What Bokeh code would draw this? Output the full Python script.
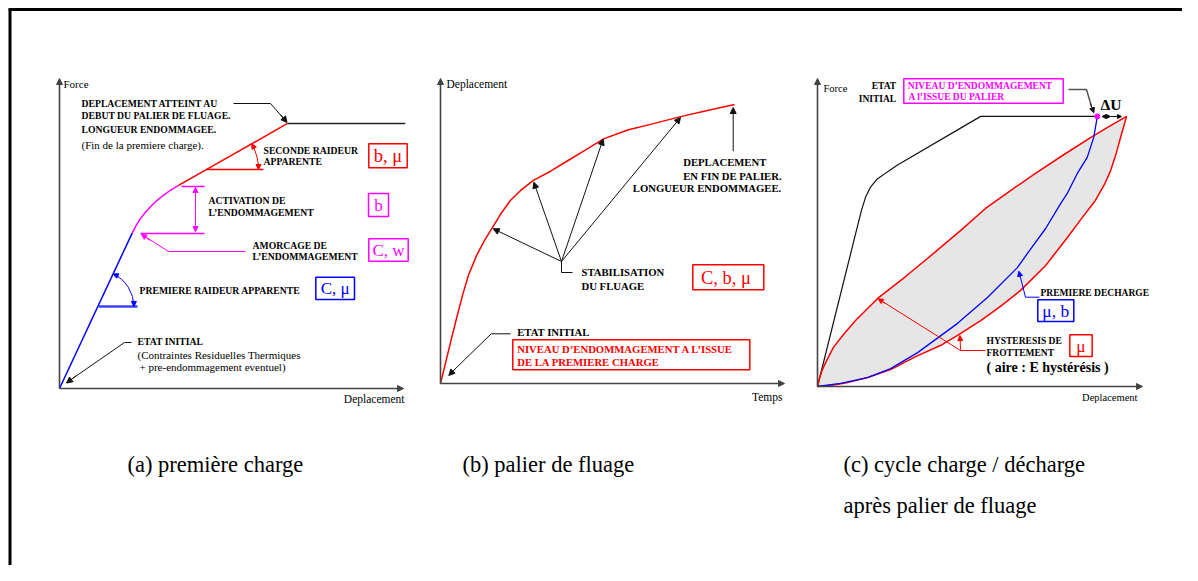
from bokeh.plotting import figure
from bokeh.models import Range1d, Arrow, NormalHead, Label
from bokeh.embed import file_html
from bokeh.resources import INLINE

# ---------------- data : values in % of each axis length ----------------
# (a) premiere charge : Force vs Deplacement (knots of the loading path)
a_disp = [0.0, 21.2, 34.6, 66.3, 100.5]
a_force = [0.0, 50.3, 65.5, 85.5, 85.5]
a_bend_ctrl_disp = [25.1]   # control point of the magenta bend
a_bend_ctrl_force = [59.5]

# (b) palier de fluage : Deplacement vs Temps
b_temps = [0.0, 2.9, 4.65, 6.4, 8.1, 10.5, 12.8, 15.1, 17.4, 20.3, 23.3, 27.0, 32.0, 37.2,
           42.2, 47.4, 54.4, 61.9, 69.8, 77.6, 85.5]
b_depl = [0.0, 13.4, 21.3, 28.9, 35.4, 42.0, 46.9, 51.1, 55.4, 60.0, 63.3, 66.6, 69.6, 73.2,
          76.6, 80.2, 83.1, 85.2, 87.5, 89.5, 91.5]

# (c) cycle charge / decharge apres palier
c_first_disp = [0.0, 13.5, 14.8, 16.3, 18.4, 21.4, 24.5, 50.2, 85.5]
c_first_force = [0.0, 57.1, 61.5, 64.7, 67.4, 69.6, 71.8, 87.7, 87.7]
c_upper_disp = [0.0, 0.6, 1.5, 2.8, 4.9, 8.0, 11.7, 15.1, 18.5, 27.1, 35.7, 44.0, 51.7, 59.4,
                66.5, 75.4, 84.0, 89.5, 95.1]
c_upper_force = [0.0, 2.6, 5.5, 8.4, 12.7, 16.9, 21.4, 25.0, 28.6, 35.7, 43.2, 50.6, 57.8, 63.6,
                 68.8, 75.0, 80.8, 84.3, 87.7]
c_lower_disp = [0.0, 4.0, 8.6, 15.4, 22.5, 30.2, 37.8, 43.1, 50.2, 56.3, 62.5, 70.2, 76.9, 81.5,
                85.5, 88.3, 90.2, 92.0, 93.5, 95.1]
c_lower_force = [0.0, 0.3, 1.1, 2.9, 5.5, 9.7, 13.3, 16.6, 21.4, 26.0, 31.2, 39.3, 48.4, 54.9,
                 60.4, 65.6, 70.1, 76.0, 81.8, 87.7]
c_unload_disp = [86.1, 85.0, 83.0, 79.9, 76.8, 74.8, 70.2, 64.6, 61.5, 52.3, 43.1, 30.8, 22.5,
                 15.4, 7.1, 0.0]
c_unload_force = [87.7, 80.9, 74.4, 69.1, 62.6, 59.4, 51.3, 43.2, 38.6, 28.9, 20.5, 11.0, 5.8,
                  2.9, 1.0, 0.0]

captions = ["(a) première charge", "(b) palier de fluage",
            "(c) cycle charge / décharge", "après palier de fluage"]

RED, BLUE, MAG, BLK = "#ff0000", "#0000ff", "#ff00ff", "#111111"
SERIF = "Liberation Serif"

# ---------------- figure in picture-pixel coordinates ----------------
X0, X1, YB, YT = 0, 1182, 565, 0
p = figure(width=X1 - X0, height=YB - YT, x_range=Range1d(X0, X1), y_range=Range1d(YB, YT),
           output_backend="svg", toolbar_location=None, min_border=0,
           x_axis_location=None, y_axis_location=None)
p.grid.visible = False
p.outline_line_color = None
p.background_fill_color = "white"

# axes frames of the three panels: origin x, origin y, x-arrow end, y-arrow top
PANELS = {"a": (59, 388, 403, 78), "b": (440, 383, 784, 78), "c": (817, 386, 1142, 78)}
for n, (ox, oy, xe, yt) in PANELS.items():
    sx, sy = 100.0 / (xe - ox), 100.0 / (oy - yt)
    p.extra_x_ranges[n] = Range1d((X0 - ox) * sx, (X1 - ox) * sx)
    p.extra_y_ranges[n] = Range1d((oy - YB) * sy, (oy - YT) * sy)
    for (xs, ys, xe_, ye_) in [(0, 0, 100, 0), (0, 0, 0, 100)]:
        p.add_layout(Arrow(x_start=xs, y_start=ys, x_end=xe_, y_end=ye_, x_range_name=n, y_range_name=n,
                           line_color="#444444", line_width=1.6,
                           end=NormalHead(size=6, fill_color="#444444", line_color="#444444")))


def txt(s, x, y, size, color="black", bold=True, align="left", baseline="middle"):
    p.add_layout(Label(x=x, y=y, text=s, text_font=SERIF, text_font_size=f"{size}px",
                       text_font_style="bold" if bold else "normal", text_color=color,
                       text_align=align, text_baseline=baseline))


def arrow(x0, y0, x1, y1, color=BLK, size=6, both=False, lw=1):
    kw = dict(x_start=x0, y_start=y0, x_end=x1, y_end=y1, line_color=color, line_width=lw,
              end=NormalHead(size=size, fill_color=color, line_color=color, line_width=1))
    if both:
        kw["start"] = NormalHead(size=size, fill_color=color, line_color=color, line_width=1)
    p.add_layout(Arrow(**kw))


def box(l, t, r, b, color):
    p.quad(left=[l], right=[r], top=[t], bottom=[b], fill_alpha=0, line_color=color, line_width=1.5)


# frame
p.line([9.5, 9.5], [YB, 9], line_color="black", line_width=3)
p.line([8, X1], [9, 9], line_color="black", line_width=3)

# ================= panel (a) =================
ka = dict(x_range_name="a", y_range_name="a")
p.line(a_disp[0:2], a_force[0:2], line_color=BLUE, line_width=1.5, **ka)
p.quadratic(x0=[a_disp[1]], y0=[a_force[1]], x1=[a_disp[2]], y1=[a_force[2]],
            cx=a_bend_ctrl_disp, cy=a_bend_ctrl_force, line_color=MAG, line_width=1.5, **ka)
p.line(a_disp[2:4], a_force[2:4], line_color=RED, line_width=1.5, **ka)
p.line(a_disp[3:5], a_force[3:5], line_color="#222222", line_width=1.5, **ka)

txt("Force", 63, 83, 11, bold=False)
txt("Deplacement", 404, 398, 11.5, bold=False, align="right")
txt("DEPLACEMENT ATTEINT AU", 81, 103, 9.7)
txt("DEBUT DU PALIER DE FLUAGE.", 81, 114.5, 9.7)
txt("LONGUEUR ENDOMMAGEE.", 81, 129, 9.7)
txt("(Fin de la premiere charge).", 81, 144.5, 11, bold=False)
p.line([233, 270, 284], [103, 103, 119], line_color=BLK, line_width=1)
arrow(280, 114, 286.5, 122)

txt("SECONDE RAIDEUR", 263, 150, 9.7)
txt("APPARENTE", 263, 160.5, 9.7)
p.line([206, 263], [169, 169], line_color=RED, line_width=1.5)
p.arc(x=[206], y=[169], radius=52, start_angle=0, end_angle=0.517, line_color=RED, line_width=1)
arrow(254.2, 148.5, 251.2, 143.3, RED, 5)
arrow(258, 163, 258, 169, RED, 5)
box(368.3, 143.3, 406.7, 167.3, RED)
txt("b, μ", 387.5, 155.5, 18.5, RED, bold=False, align="center")

txt("ACTIVATION DE", 208, 200, 9.7)
txt("L’ENDOMMAGEMENT", 208, 211.5, 9.7)
p.line([181, 204], [186, 186], line_color=MAG, line_width=1.5)
p.line([140, 204], [233, 233], line_color=MAG, line_width=1.5)
arrow(195, 210, 195, 187, MAG, 5)
arrow(195, 210, 195, 231, MAG, 5)
box(368, 193, 388, 216, MAG)
txt("b", 378, 204.5, 17, MAG, bold=False, align="center")

txt("AMORCAGE DE", 252, 244.5, 9.7)
txt("L’ENDOMMAGEMENT", 252, 255.5, 9.7)
p.line([245, 168, 146], [251, 251, 237], line_color=MAG, line_width=1)
arrow(150, 240, 141, 234, MAG, 5)
box(368.3, 238.3, 407.7, 260.7, MAG)
txt("C, w", 388, 249.5, 17, MAG, bold=False, align="center")

txt("PREMIERE RAIDEUR APPARENTE", 139, 289.5, 9.7)
p.line([98, 137], [306, 306], line_color="#4040ff", line_width=2.5)
p.arc(x=[97.4], y=[306], radius=36, start_angle=0, end_angle=1.133, line_color=BLUE, line_width=1)
arrow(118.1, 275.9, 112.7, 273.4, BLUE, 5)
arrow(133.4, 300, 133.4, 306, BLUE, 5)
box(315.3, 276.7, 354, 299, BLUE)
txt("C, μ", 334.7, 288, 17, BLUE, bold=False, align="center")

txt("ETAT INITIAL", 137, 341, 9.7)
txt("(Contraintes Residuelles Thermiques", 137, 354, 11, bold=False)
txt(" + pre-endommagement eventuel)", 139, 366, 11, bold=False)
p.line([131, 124, 72], [342, 342, 378], line_color=BLK, line_width=1)
arrow(76, 375, 66, 382.5)

# ================= panel (b) =================
kb = dict(x_range_name="b", y_range_name="b")
p.line(b_temps, b_depl, line_color=RED, line_width=1.5, **kb)
txt("Deplacement", 446, 83, 11.5, bold=False)
txt("Temps", 782, 396, 11.5, bold=False, align="right")
for tx, ty in [(492.7, 228.3), (533.3, 181.7), (602.7, 138.5), (680, 117)]:
    arrow(561, 261, tx, ty, BLK, 6)
p.line([561, 561, 572], [261, 272, 272], line_color=BLK, line_width=1)
txt("STABILISATION", 581, 271, 10.7)
txt("DU FLUAGE", 581, 285.3, 10.7)
box(692.3, 264.3, 763.3, 289.3, RED)
txt("C, b,  μ", 727.8, 277, 18.5, RED, bold=False, align="center")
txt("DEPLACEMENT", 682.7, 161.7, 10.7)
txt("EN FIN DE PALIER.", 682.7, 175, 10.7)
txt("LONGUEUR ENDOMMAGEE.", 632.3, 187.7, 10.7)
arrow(732.7, 150.7, 732.7, 107, BLK, 6)
txt("ETAT INITIAL", 516.7, 331, 10.7)
p.line([510, 490.7, 452], [333.3, 333.3, 371], line_color=BLK, line_width=1)
arrow(455, 368, 448.3, 375)
box(512.3, 339.3, 749.3, 369.3, RED)
txt("NIVEAU D’ENDOMMAGEMENT A L’ISSUE", 516.7, 348.3, 10.7, RED)
txt("DE LA PREMIERE CHARGE", 516.7, 361, 10.7, RED)

# ================= panel (c) =================
kc = dict(x_range_name="c", y_range_name="c")
p.patch(c_upper_disp + c_lower_disp[::-1], c_upper_force + c_lower_force[::-1],
        fill_color="#e6e6e6", line_color=None, **kc)
p.line(c_first_disp, c_first_force, line_color=BLK, line_width=1.2, **kc)
p.line(c_upper_disp, c_upper_force, line_color=RED, line_width=1.5, **kc)
p.line(c_lower_disp, c_lower_force, line_color=RED, line_width=1.5, **kc)
p.line(c_unload_disp, c_unload_force, line_color=BLUE, line_width=1.3, **kc)
p.scatter(c_unload_disp[:1], c_unload_force[:1], size=5, color=MAG, **kc)

txt("Force", 823, 88, 10.5, bold=False)
txt("Deplacement", 1137, 397, 10.5, bold=False, align="right")
txt("ETAT", 895.7, 85.7, 9.5, align="right")
txt("INITIAL", 895.7, 98.3, 9.5, align="right")
box(903.3, 78.3, 1062.7, 102.7, MAG)
txt("NIVEAU D’ENDOMMAGEMENT", 907.3, 85.7, 9.5, MAG)
txt(" A l’ISSUE DU PALIER", 908, 96.7, 9.5, MAG)
p.line([1068, 1086, 1091], [89, 89, 106], line_color="#555555", line_width=1.5)
arrow(1090, 103, 1093.3, 112.3, BLK, 5)
txt("ΔU", 1100, 104, 15.5)
arrow(1110, 116, 1101.5, 116, BLK, 4, both=True)
arrow(1110, 116, 1121, 116, BLK, 4)

p.line([1039, 1025, 1019.5], [296.7, 296.7, 275], line_color=BLUE, line_width=1)
arrow(1020, 277, 1018.3, 270.7, BLUE, 5)
txt("PREMIERE DECHARGE", 1040, 292.7, 9.5)
box(1037.3, 299.3, 1073.3, 321, BLUE)
txt("μ, b", 1055.3, 310.5, 17.5, BLUE, bold=False, align="center")

p.line([985, 960, 882], [350, 350, 301], line_color=RED, line_width=1)
arrow(885, 303, 877.7, 298.3, RED, 5)
arrow(960, 350, 959.5, 335, RED, 5)
txt("HYSTERESIS DE", 986, 340, 9.5)
txt("FROTTEMENT", 986, 352.7, 9.5)
txt("( aire : E hystérésis )", 986, 366.5, 14)
box(1069.3, 334.3, 1091.7, 356, RED)
txt("μ", 1080.5, 345.5, 17.5, RED, bold=False, align="center")

# ================= captions =================
txt(captions[0], 127, 464, 22.5, bold=False, baseline="alphabetic")
txt(captions[1], 462, 464, 22.5, bold=False, baseline="alphabetic")
txt(captions[2], 843, 464, 22.5, bold=False, baseline="alphabetic")
txt(captions[3], 843, 505, 22.5, bold=False, baseline="alphabetic")

open("out.html", "w").write(file_html(p, INLINE))
